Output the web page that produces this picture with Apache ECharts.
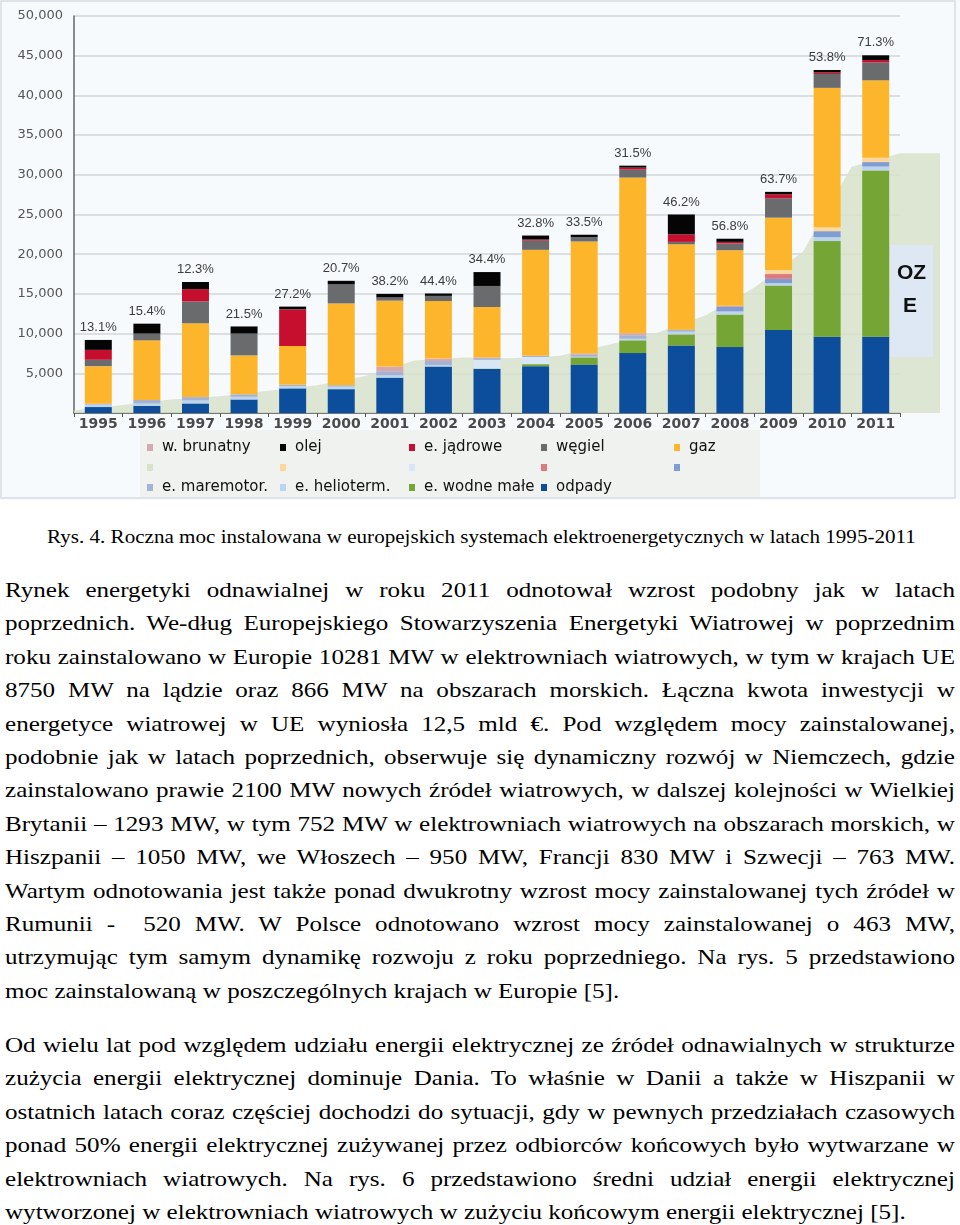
<!DOCTYPE html>
<html>
<head>
<meta charset="utf-8">
<script src="https://cdn.jsdelivr.net/npm/echarts@6/dist/echarts.min.js"></script>
<style>
  html, body { margin: 0; padding: 0; background: #ffffff; }
  #chart { position: absolute; left: 0; top: 0; width: 960px; height: 500px; }
  #caption { position: absolute; left: 47px; top: 527px; width: 760px; text-align: left;
             font-family: 'Liberation Serif', 'Times New Roman', serif; font-size: 18.5px; color: #000; white-space: nowrap;
             transform: scaleX(1.14); transform-origin: 0 0; }
  .para { position: absolute; left: 5px; width: 833.3px; font-family: 'Liberation Serif', 'Times New Roman', serif;
          font-size: 22px; line-height: 33.4px; color: #000; transform: scaleX(1.14); transform-origin: 0 0; }
  .para div { white-space: nowrap; text-align: justify; text-align-last: justify; height: 33.4px; }
  .para div.last { text-align-last: left; }
</style>
</head>
<body>
<div id="chart"></div>
<div id="caption">Rys. 4. Roczna moc instalowana w europejskich systemach elektroenergetycznych w latach 1995-2011</div>
<div class="para" style="top:573px">
<div>Rynek energetyki odnawialnej w roku 2011 odnotował wzrost podobny jak w latach</div>
<div>poprzednich. We-dług Europejskiego Stowarzyszenia Energetyki Wiatrowej w poprzednim</div>
<div>roku zainstalowano w Europie 10281 MW w elektrowniach wiatrowych, w tym w krajach UE</div>
<div>8750 MW na lądzie oraz 866 MW na obszarach morskich. Łączna kwota inwestycji w</div>
<div>energetyce wiatrowej w UE wyniosła 12,5 mld €. Pod względem mocy zainstalowanej,</div>
<div>podobnie jak w latach poprzednich, obserwuje się dynamiczny rozwój w Niemczech, gdzie</div>
<div>zainstalowano prawie 2100 MW nowych źródeł wiatrowych, w dalszej kolejności w Wielkiej</div>
<div>Brytanii – 1293 MW, w tym 752 MW w elektrowniach wiatrowych na obszarach morskich, w</div>
<div>Hiszpanii – 1050 MW, we Włoszech – 950 MW, Francji 830 MW i Szwecji – 763 MW.</div>
<div>Wartym odnotowania jest także ponad dwukrotny wzrost mocy zainstalowanej tych źródeł w</div>
<div>Rumunii -&nbsp; 520 MW. W Polsce odnotowano wzrost mocy zainstalowanej o 463 MW,</div>
<div>utrzymując tym samym dynamikę rozwoju z roku poprzedniego. Na rys. 5 przedstawiono</div>
<div class="last">moc zainstalowaną w poszczególnych krajach w Europie [5].</div>
</div>
<div class="para" style="top:1028px">
<div>Od wielu lat pod względem udziału energii elektrycznej ze źródeł odnawialnych w strukturze</div>
<div>zużycia energii elektrycznej dominuje Dania. To właśnie w Danii a także w Hiszpanii w</div>
<div>ostatnich latach coraz częściej dochodzi do sytuacji, gdy w pewnych przedziałach czasowych</div>
<div>ponad 50% energii elektrycznej zużywanej przez odbiorców końcowych było wytwarzane w</div>
<div>elektrowniach wiatrowych. Na rys. 6 przedstawiono średni udział energii elektrycznej</div>
<div class="last">wytworzonej w elektrowniach wiatrowych w zużyciu końcowym energii elektrycznej [5].</div>
</div>
<script>
// ---- data (MW) ----
const years = ['1995','1996','1997','1998','1999','2000','2001','2002','2003','2004','2005','2006','2007','2008','2009','2010','2011'];
const pctLabels = ['13.1%','15.4%','12.3%','21.5%','27.2%','20.7%','38.2%','44.4%','34.4%','32.8%','33.5%','31.5%','46.2%','56.8%','63.7%','53.8%','71.3%'];
const odpady     = [750, 900, 1200, 1700, 3100, 3000, 4450, 5850, 5550, 5900, 6100, 7550, 8500, 8300, 10450, 9600, 9600];
const wodneMale  = [0, 0, 0, 0, 0, 0, 0, 0, 50, 250, 900, 1600, 1400, 4100, 5600, 12050, 20950];
const helioterm  = [300, 300, 400, 350, 300, 350, 300, 200, 0, 0, 100, 200, 350, 400, 300, 500, 500];
const jasnoNieb  = [0, 0, 0, 0, 0, 0, 0, 0, 1100, 900, 0, 0, 0, 0, 0, 0, 0];
const maremotor  = [100, 450, 400, 300, 150, 150, 500, 500, 200, 150, 250, 450, 250, 0, 0, 0, 0];
const niebieski  = [0, 0, 0, 0, 0, 0, 0, 0, 0, 0, 0, 0, 0, 550, 550, 750, 550];
const brunatny   = [0, 0, 0, 0, 0, 0, 600, 300, 100, 0, 150, 250, 0, 150, 0, 0, 0];
const rozowy     = [0, 0, 0, 0, 0, 0, 0, 0, 0, 0, 0, 0, 0, 0, 600, 0, 0];
const jasnoPom   = [0, 0, 0, 0, 0, 0, 0, 0, 0, 0, 0, 0, 0, 0, 500, 500, 550];
const gaz        = [4750, 7500, 9300, 4900, 4900, 10300, 8300, 7250, 6350, 13350, 14100, 19600, 10750, 7000, 6600, 17550, 9750];
const wegiel     = [800, 850, 2750, 2750, 0, 2400, 400, 650, 2650, 1150, 550, 1000, 300, 850, 2450, 1750, 2250];
const jadrowe    = [1250, 0, 1550, 0, 4600, 0, 0, 0, 0, 150, 0, 250, 950, 200, 500, 200, 300];
const olej       = [1250, 1250, 900, 900, 350, 450, 450, 300, 1750, 500, 300, 250, 2500, 400, 300, 300, 600];
// OZE share area (position in category units from left edge of axis, MW)
const ozeX = [0, 1, 2, 3, 4, 5, 6, 7, 8, 9, 10, 11, 12, 13, 14, 15, 16, 17, 17.82];
const ozeY = [300, 1000, 1700, 2100, 2800, 3500, 4650, 6600, 7000, 6900, 7200, 8600, 10100, 12300, 15800, 20300, 31000, 32700, 32700];

const blankNames = ['OZE', 'jasnopomarańczowy', 'jasnoniebieski', 'różowy', 'niebieski'];

const chart = echarts.init(document.getElementById('chart'));

const stackDefs = [
  ['odpady', odpady, '#0c4e9b'],
  ['e. wodne małe', wodneMale, '#74a535'],
  ['e. helioterm.', helioterm, '#bcd4ee'],
  ['jasnoniebieski', jasnoNieb, '#d8e7f5'],
  ['e. maremotor.', maremotor, '#a3b2d5'],
  ['niebieski', niebieski, '#7f9cd3'],
  ['w. brunatny', brunatny, '#d9a8af'],
  ['różowy', rozowy, '#dc7a80'],
  ['jasnopomarańczowy', jasnoPom, '#fcd89e'],
  ['gaz', gaz, '#fdb62c'],
  ['węgiel', wegiel, '#6a6b6d'],
  ['e. jądrowe', jadrowe, '#c60f2e'],
  ['olej', olej, '#050505']
];

const series = [{
  name: 'OZE', type: 'line', xAxisIndex: 1, yAxisIndex: 1, z: 1,
  data: ozeX.map((x, i) => [x, ozeY[i]]),
  symbol: 'none', lineStyle: { width: 0 },
  itemStyle: { color: '#d9e3cc' },
  areaStyle: { color: '#d9e3cc', opacity: 0.88 }, silent: true
}];
stackDefs.forEach(([name, data, color]) => {
  const s = { name, type: 'bar', stack: 'total', data, barWidth: 27, z: 3,
              itemStyle: { color }, emphasis: { disabled: true } };
  if (name === 'olej') {
    s.label = { show: true, position: 'top', distance: 6,
                formatter: p => pctLabels[p.dataIndex],
                fontFamily: "'Liberation Sans Narrow', 'Liberation Sans', sans-serif",
                fontSize: 13, color: '#3c3c3c' };
  }
  series.push(s);
});

const legendCols = [
  { left: 147, data: ['w. brunatny', 'OZE', 'e. maremotor.'] },
  { left: 280, data: ['olej', 'jasnopomarańczowy', 'e. helioterm.'] },
  { left: 409, data: ['e. jądrowe', 'jasnoniebieski', 'e. wodne małe'] },
  { left: 541, data: ['węgiel', 'różowy', 'odpady'] },
  { left: 674, data: ['gaz', 'niebieski'] }
];

chart.setOption({
  animation: false,
  backgroundColor: '#f7fafc',
  grid: [
    { left: 74, top: 16, width: 826, bottom: 87 },
    { left: 74, top: 16, width: 866, bottom: 87 }
  ],
  xAxis: [
    { type: 'category', data: years, gridIndex: 0,
      axisLine: { lineStyle: { color: '#555', width: 1.5 } },
      axisTick: { show: true, length: 4, lineStyle: { color: '#555' } },
      axisLabel: { interval: 0, margin: 4, fontFamily: 'DejaVu Sans', fontWeight: 'bold', fontSize: 14, color: '#4a4a4a' } },
    { type: 'value', gridIndex: 1, min: 0, max: 17.82, show: false }
  ],
  yAxis: [
    { type: 'value', gridIndex: 0, min: 0, max: 50000, interval: 5000,
      axisLine: { show: true, lineStyle: { color: '#666', width: 1.5 } },
      axisTick: { show: false },
      splitLine: { lineStyle: { color: '#d2d6d9', width: 1.5 } },
      axisLabel: { margin: 11, fontFamily: 'DejaVu Sans', fontSize: 13, color: '#555',
                   formatter: v => v === 0 ? '' : v.toLocaleString('en-US') } },
    { type: 'value', gridIndex: 1, min: 0, max: 50000, show: false }
  ],
  legend: legendCols.map(c => ({
    left: c.left, top: 440, height: 60, padding: 0, orient: 'vertical', data: c.data,
    itemWidth: 6, itemHeight: 7, itemGap: 5, selectedMode: false, icon: 'rect',
    formatter: n => blankNames.includes(n) ? ' ' : n,
    textStyle: { fontFamily: 'DejaVu Sans', fontSize: 15, lineHeight: 15, color: '#111', padding: [0, 0, 0, 4] }
  })),
  graphic: [
    { type: 'rect', z: -10, shape: { x: 140, y: 430, width: 620, height: 67 }, style: { fill: '#eff2ef' }, silent: true },
    { type: 'rect', z: 10, shape: { x: 890, y: 245, width: 43, height: 112 }, style: { fill: '#dde8f4' }, silent: true },
    { type: 'text', z: 11, left: 897, top: 263, style: { text: 'OZ', fontFamily: 'Liberation Sans', fontWeight: 'bold', fontSize: 21, fill: '#111' } },
    { type: 'text', z: 11, left: 903, top: 296, style: { text: 'E', fontFamily: 'Liberation Sans', fontWeight: 'bold', fontSize: 21, fill: '#111' } },
    { type: 'rect', z: 12, shape: { x: 1, y: 1, width: 954, height: 497 }, style: { fill: 'none', stroke: '#d9dcdf', lineWidth: 1.5 }, silent: true }
  ],
  series
});
</script>
</body>
</html>
